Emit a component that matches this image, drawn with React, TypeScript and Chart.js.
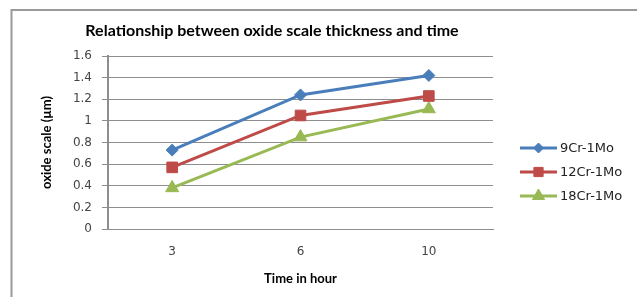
import React, { useEffect, useRef } from "react";
import { Chart, registerables } from "chart.js";
import { drawPoint } from "chart.js/helpers";

Chart.register(...registerables);

const chartTitle = "Relationship between oxide scale thickness and time";
const xAxisTitle = "Time in hour";
const yAxisTitle = "oxide scale (µm)";
const categories = ["3", "6", "10"];
const seriesNames = ["9Cr-1Mo", "12Cr-1Mo", "18Cr-1Mo"];
const series9Cr = [0.73, 1.24, 1.42];
const series12Cr = [0.57, 1.05, 1.23];
const series18Cr = [0.38, 0.85, 1.11];
const yTickValues = [0, 0.2, 0.4, 0.6, 0.8, 1, 1.2, 1.4, 1.6];
const yTickLabels = ["0", "0.2", "0.4", "0.6", "0.8", "1", "1.2", "1.4", "1.6"];

const colors = ["#4a7ebb", "#be4b48", "#98b954"];
const pointStyles = ["rectRot", "rect", "triangle"];
const pointRadii = [6, 7.5, 7.5];
const legendRadii = [5, 6.5, 7];

const gridColor = "#8e8e8e";
const tickFont = { family: "DejaVu Sans", size: 12 };
const titleFamily = "Lato";

const framePlugin = {
  id: "frame",
  beforeDraw(chart: any) {
    const { ctx, width, height } = chart;
    ctx.save();
    ctx.fillStyle = "#ffffff";
    ctx.fillRect(0, 0, width, height);
    ctx.strokeStyle = "#9a9a9a";
    ctx.lineWidth = 2;
    ctx.beginPath();
    ctx.moveTo(11.5, height);
    ctx.lineTo(11.5, 10);
    ctx.lineTo(width, 10);
    ctx.stroke();
    ctx.restore();
  },
};

const titlePlugin = {
  id: "mainTitle",
  afterDraw(chart: any) {
    const { ctx } = chart;
    ctx.save();
    ctx.fillStyle = "#000000";
    ctx.font = `bold 16px ${titleFamily}`;
    ctx.textAlign = "center";
    ctx.textBaseline = "middle";
    ctx.fillText(chartTitle, 272, 31);
    ctx.restore();
  },
};

const legendPlugin = {
  id: "sideLegend",
  afterDraw(chart: any) {
    const { ctx, chartArea } = chart;
    const x0 = chartArea.right + 27;
    const lineLen = 37;
    const y0 = chartArea.top + 92;
    const gap = 24;
    chart.data.datasets.forEach((ds: any, i: number) => {
      const y = y0 + i * gap;
      ctx.save();
      ctx.strokeStyle = ds.borderColor;
      ctx.lineWidth = 3;
      ctx.beginPath();
      ctx.moveTo(x0, y);
      ctx.lineTo(x0 + lineLen, y);
      ctx.stroke();
      ctx.fillStyle = ds.pointBackgroundColor;
      ctx.strokeStyle = ds.pointBorderColor;
      ctx.lineWidth = 1;
      drawPoint(ctx, { pointStyle: ds.pointStyle, radius: legendRadii[i], rotation: 0, borderWidth: 1 } as any, x0 + lineLen / 2, y);
      ctx.fillStyle = "#222222";
      ctx.font = "13px 'DejaVu Sans'";
      ctx.textBaseline = "middle";
      ctx.textAlign = "left";
      ctx.fillText(ds.label, x0 + lineLen + 3, y + 1);
      ctx.restore();
    });
  },
};

export default function App() {
  const canvasRef = useRef<HTMLCanvasElement | null>(null);

  useEffect(() => {
    if (!canvasRef.current) return;
    const allSeries = [series9Cr, series12Cr, series18Cr];
    const chart = new Chart(canvasRef.current, {
      type: "line",
      data: {
        labels: categories,
        datasets: allSeries.map((values, i) => ({
          label: seriesNames[i],
          data: values,
          borderColor: colors[i],
          backgroundColor: colors[i],
          pointBackgroundColor: colors[i],
          pointBorderColor: colors[i],
          pointStyle: pointStyles[i] as any,
          pointRadius: pointRadii[i],
          pointBorderWidth: 1,
          borderWidth: 3,
          tension: 0,
        })),
      },
      options: {
        responsive: false,
        animation: false,
        devicePixelRatio: 1,
        layout: { padding: { left: 14, right: 144, top: 56, bottom: 0 } },
        plugins: {
          legend: { display: false },
          tooltip: { enabled: false },
          title: { display: false },
        },
        scales: {
          x: {
            type: "category",
            offset: true,
            grid: { display: false, drawTicks: false },
            border: { display: true, color: gridColor, width: 1 },
            ticks: { color: "#444444", font: tickFont, padding: 16 },
            title: {
              display: true,
              text: xAxisTitle,
              color: "#000000",
              font: { family: titleFamily, size: 13, weight: "bold" },
              padding: { top: 0, bottom: 10 },
            },
            afterFit: (s: any) => {
              s.height = 68;
            },
          },
          y: {
            type: "linear",
            min: 0,
            max: 1.6,
            grid: { color: gridColor, lineWidth: 1, drawTicks: true, tickLength: 6, tickColor: gridColor },
            border: { display: true, color: gridColor, width: 2 },
            afterBuildTicks: (s: any) => {
              s.ticks = yTickValues.map((v) => ({ value: v }));
            },
            ticks: {
              color: "#444444",
              font: tickFont,
              padding: 10,
              callback: (_v: any, idx: number) => yTickLabels[idx],
            },
            title: {
              display: true,
              text: yAxisTitle,
              color: "#000000",
              font: { family: titleFamily, size: 13, weight: "bold" },
              padding: { top: 25, bottom: 0 },
            },
            afterFit: (s: any) => {
              s.width = 94;
            },
          },
        },
      },
      plugins: [framePlugin, titlePlugin, legendPlugin],
    });
    return () => chart.destroy();
  }, []);

  return (
    <div style={{ position: "fixed", left: 0, top: 0, width: 637, height: 297, background: "#fff" }}>
      <canvas ref={canvasRef} width={637} height={297} style={{ display: "block" }} />
    </div>
  );
}
